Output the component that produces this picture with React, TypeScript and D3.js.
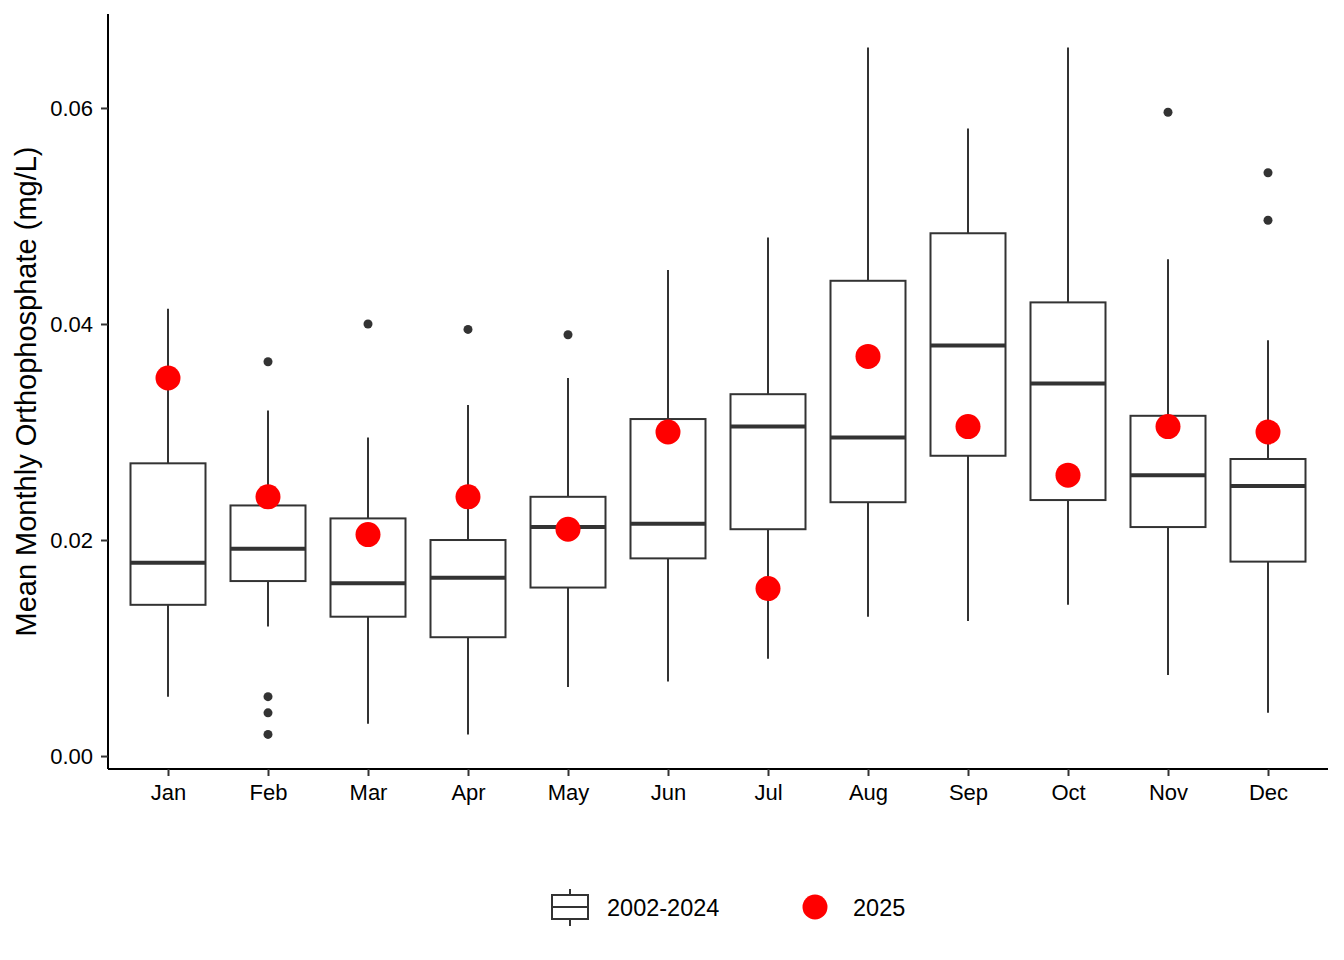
import { useRef, useEffect } from "react";
import { axisBottom, axisLeft, scaleLinear, scalePoint, select } from "d3";

const months = ["Jan", "Feb", "Mar", "Apr", "May", "Jun", "Jul", "Aug", "Sep", "Oct", "Nov", "Dec"];

// 2002-2024 box statistics per month
const whiskerLow = [0.0055, 0.012, 0.003, 0.002, 0.0064, 0.0069, 0.009, 0.0129, 0.0125, 0.014, 0.0075, 0.004];
const q1 = [0.014, 0.0162, 0.0129, 0.011, 0.0156, 0.0183, 0.021, 0.0235, 0.0278, 0.0237, 0.0212, 0.018];
const median = [0.0179, 0.0192, 0.016, 0.0165, 0.0212, 0.0215, 0.0305, 0.0295, 0.038, 0.0345, 0.026, 0.025];
const q3 = [0.0271, 0.0232, 0.022, 0.02, 0.024, 0.0312, 0.0335, 0.044, 0.0484, 0.042, 0.0315, 0.0275];
const whiskerHigh = [0.0414, 0.032, 0.0295, 0.0325, 0.035, 0.045, 0.048, 0.0656, 0.0581, 0.0656, 0.046, 0.0385];

const outlierMonths = ["Feb", "Feb", "Feb", "Feb", "Mar", "Apr", "May", "Nov", "Dec", "Dec"];
const outlierValues = [0.0365, 0.0055, 0.004, 0.002, 0.04, 0.0395, 0.039, 0.0596, 0.054, 0.0496];

// 2025 monthly means
const current = [0.035, 0.024, 0.0205, 0.024, 0.021, 0.03, 0.0155, 0.037, 0.0305, 0.026, 0.0305, 0.03];

const yTicks = [0, 0.02, 0.04, 0.06];

const FONT = "Arial, 'Liberation Sans', sans-serif";
const INK = "#333333";

const margin = { top: 14, right: 16, bottom: 191, left: 108 };
const W = 1344;
const H = 960;
const width = W - margin.left - margin.right;
const height = H - margin.top - margin.bottom;

function AxisLeft({ scale }: { scale: any }) {
    const ref = useRef<SVGGElement>(null);
    useEffect(() => {
        if (ref.current) {
            const g = select(ref.current);
            g.call(axisLeft(scale).tickValues(yTicks).tickFormat((d: any) => (+d).toFixed(2)).tickSize(7).tickPadding(8));
            g.select(".domain").attr("stroke", "#000").attr("stroke-width", 2).attr("d", `M0,${height}V0`);
            g.selectAll(".tick line").attr("stroke", INK).attr("stroke-width", 2);
            g.selectAll(".tick text").attr("fill", "#000").attr("font-size", 22).attr("font-family", FONT);
        }
    }, [scale]);
    return <g ref={ref} />;
}

function AxisBottom({ scale }: { scale: any }) {
    const ref = useRef<SVGGElement>(null);
    useEffect(() => {
        if (ref.current) {
            const g = select(ref.current);
            g.call(axisBottom(scale).tickSize(7).tickPadding(8));
            g.select(".domain").attr("stroke", "#000").attr("stroke-width", 2).attr("d", `M0,0H${width}`);
            g.selectAll(".tick line").attr("stroke", INK).attr("stroke-width", 2);
            g.selectAll(".tick text").attr("fill", "#000").attr("font-size", 22).attr("font-family", FONT);
        }
    }, [scale]);
    return <g ref={ref} transform={`translate(0, ${height})`} />;
}

export default function App() {
    const x = scalePoint().domain(months).range([0, width]).padding(0.6);
    const y = scaleLinear().domain([-0.0012, 0.0687]).range([height, 0]);
    const boxW = 75;

    return (
        <svg width={W} height={H} style={{ position: "absolute", left: 0, top: 0, background: "#fff" }}>
            <g transform={`translate(${margin.left}, ${margin.top})`}>
                {months.map((m, i) => {
                    const cx = x(m)!;
                    return (
                        <g key={m}>
                            <line x1={cx} x2={cx} y1={y(whiskerHigh[i])} y2={y(q3[i])} stroke={INK} strokeWidth={2} />
                            <line x1={cx} x2={cx} y1={y(q1[i])} y2={y(whiskerLow[i])} stroke={INK} strokeWidth={2} />
                            <rect
                                x={cx - boxW / 2}
                                y={y(q3[i])}
                                width={boxW}
                                height={y(q1[i]) - y(q3[i])}
                                fill="#fff"
                                stroke={INK}
                                strokeWidth={2}
                            />
                            <line
                                x1={cx - boxW / 2}
                                x2={cx + boxW / 2}
                                y1={y(median[i])}
                                y2={y(median[i])}
                                stroke={INK}
                                strokeWidth={4}
                            />
                        </g>
                    );
                })}
                {outlierValues.map((v, i) => (
                    <circle key={`o-${i}`} cx={x(outlierMonths[i])!} cy={y(v)} r={4.5} fill={INK} />
                ))}
                {current.map((v, i) => (
                    <circle key={`c-${i}`} cx={x(months[i])!} cy={y(v)} r={12.5} fill="#ff0000" />
                ))}
                <AxisLeft scale={y} />
                <AxisBottom scale={x} />
                <text
                    transform={`translate(${-72}, ${height / 2}) rotate(-90)`}
                    textAnchor="middle"
                    fontSize={29}
                    fontFamily={FONT}
                    fill="#000"
                >
                    Mean Monthly Orthophosphate (mg/L)
                </text>
            </g>
            <g transform="translate(570, 907)">
                <line x1={0} x2={0} y1={-18} y2={19} stroke={INK} strokeWidth={2} />
                <rect x={-18} y={-12} width={36} height={24} fill="#fff" stroke={INK} strokeWidth={2} />
                <line x1={-18} x2={18} y1={0} y2={0} stroke={INK} strokeWidth={2} />
                <text x={37} y={9} fontSize={23.5} fontFamily={FONT} fill="#000">
                    2002-2024
                </text>
                <circle cx={245} cy={0} r={12.5} fill="#ff0000" />
                <text x={283} y={9} fontSize={23.5} fontFamily={FONT} fill="#000">
                    2025
                </text>
            </g>
        </svg>
    );
}
